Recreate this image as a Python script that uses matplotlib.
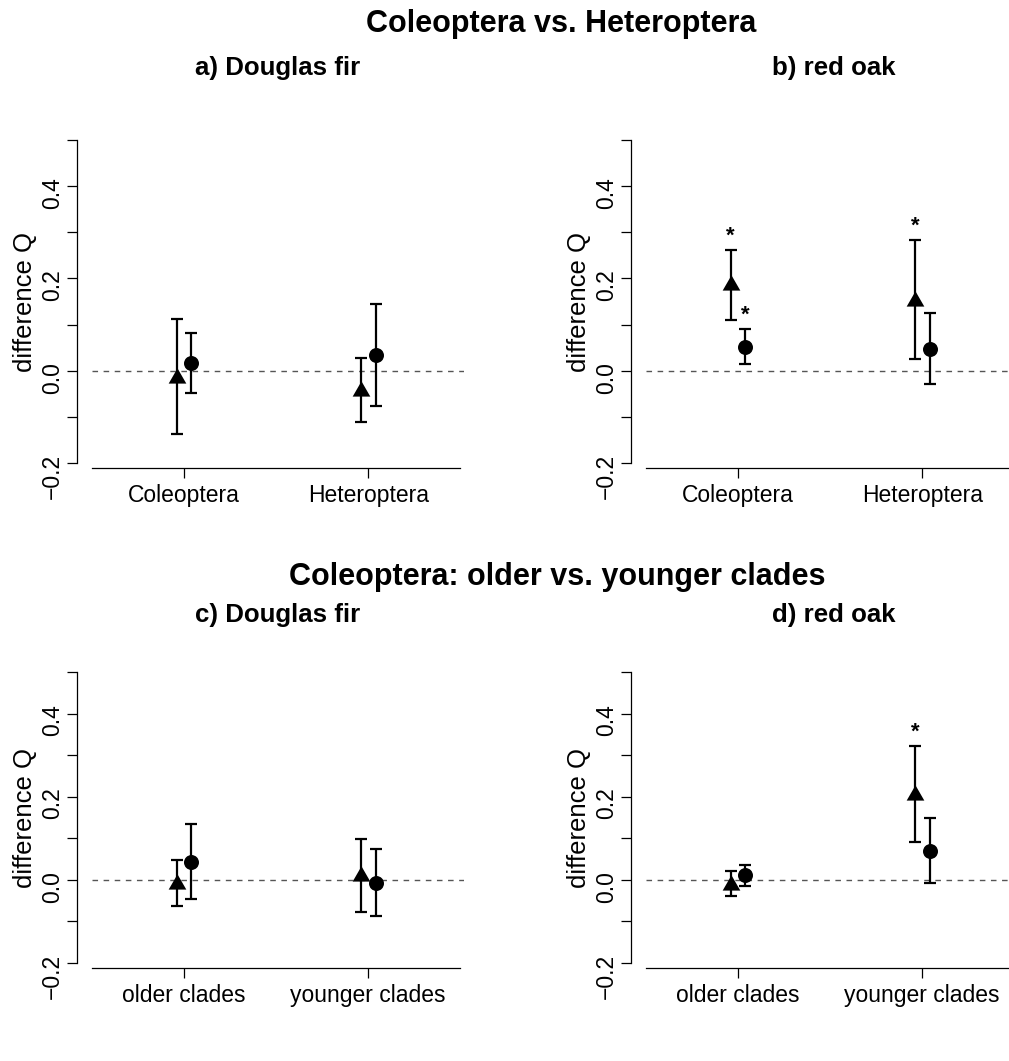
import matplotlib
matplotlib.use("Agg")
import matplotlib.pyplot as plt
import numpy as np

plt.rcParams['font.family'] = ['Liberation Sans', 'DejaVu Sans']

W, H = 1009, 1061

# categories
cats_top = ["Coleoptera", "Heteroptera"]
cats_bottom = ["older clades", "younger clades"]

# a) Douglas fir, Coleoptera vs. Heteroptera
a_tri = [-0.016, -0.043]
a_tri_lo = [-0.138, -0.111]
a_tri_hi = [0.112, 0.027]
a_dot = [0.016, 0.034]
a_dot_lo = [-0.049, -0.076]
a_dot_hi = [0.082, 0.145]
a_tri_sig = [False, False]
a_dot_sig = [False, False]

# b) red oak, Coleoptera vs. Heteroptera
b_tri = [0.185, 0.152]
b_tri_lo = [0.110, 0.025]
b_tri_hi = [0.261, 0.283]
b_dot = [0.052, 0.048]
b_dot_lo = [0.014, -0.029]
b_dot_hi = [0.090, 0.124]
b_tri_sig = [True, True]
b_dot_sig = [True, False]

# c) Douglas fir, older vs. younger clades
c_tri = [-0.010, 0.009]
c_tri_lo = [-0.062, -0.078]
c_tri_hi = [0.047, 0.098]
c_dot = [0.043, -0.007]
c_dot_lo = [-0.046, -0.086]
c_dot_hi = [0.134, 0.074]
c_tri_sig = [False, False]
c_dot_sig = [False, False]

# d) red oak, older vs. younger clades
d_tri = [-0.012, 0.203]
d_tri_lo = [-0.038, 0.090]
d_tri_hi = [0.022, 0.322]
d_dot = [0.011, 0.070]
d_dot_lo = [-0.014, -0.008]
d_dot_hi = [0.036, 0.148]
d_tri_sig = [False, True]
d_dot_sig = [False, False]

yticks = [-0.2, -0.1, 0.0, 0.1, 0.2, 0.3, 0.4, 0.5]
ytick_labels = ["\u22120.2", "", "0.0", "", "0.2", "", "0.4", ""]

# R-like filled triangle (pch 17), centred on its centroid
TRI = [(0, 1.555), (1.347, -0.778), (-1.347, -0.778), (0, 1.555)]
PX = 72 / 100  # points per pixel at dpi 100


def panel(ax, cats, tri, tri_lo, tri_hi, tri_sig, dot, dot_lo, dot_hi, dot_sig):
    x = np.arange(1, len(cats) + 1)
    ax.tick_params(axis="both", length=10 * PX, width=0.9, labelsize=16.5)
    ax.tick_params(axis="x", pad=4)
    ax.tick_params(axis="y", pad=2, labelrotation=90)
    ax.axhline(0, color="#555555", lw=1.0, ls=(0, (4, 4)), zorder=1)
    for xs, y, lo, hi, sig, mk, ms in [
        (x - 0.04, tri, tri_lo, tri_hi, tri_sig, TRI, 20.4 * PX),
        (x + 0.04, dot, dot_lo, dot_hi, dot_sig, "o", 15 * PX),
    ]:
        y = np.array(y)
        err = [y - np.array(lo), np.array(hi) - y]
        ax.errorbar(xs, y, yerr=err, fmt="none", ecolor="black",
                    elinewidth=1.6, capsize=4.5, capthick=1.6, zorder=2)
        ax.plot(xs, y, ls="none", marker=mk, ms=ms, color="black",
                mec="black", mew=0, zorder=3)
        for xi, h, s in zip(xs, hi, sig):
            if s:
                ax.annotate("*", xy=(xi, h), xytext=(0, 6),
                            textcoords="offset points", ha="center",
                            va="baseline", fontsize=16, fontweight="bold")
    ax.set_xlim(0.5, 2.52)
    ax.set_ylim(-0.2, 0.5)
    ax.set_xticks(x)
    ax.set_xticklabels(cats)
    ax.set_yticks(yticks)
    ax.set_yticklabels(ytick_labels)
    for t in ax.get_yticklabels():
        t.set_va("center")
    ax.set_ylabel("difference Q", fontsize=18.5, labelpad=3)
    for s in ("top", "right"):
        ax.spines[s].set_visible(False)
    ax.spines["left"].set_position(("outward", 15 * PX))
    ax.spines["bottom"].set_position(("outward", 5 * PX))
    ax.spines["left"].set_bounds(-0.2, 0.5)
    ax.spines["bottom"].set_bounds(0.5, 2.5)
    for s in ("left", "bottom"):
        ax.spines[s].set_linewidth(0.9)
    ax.patch.set_alpha(0)


fig = plt.figure(figsize=(W / 100, H / 100), dpi=100)

w = 372 / W
top_b, top_h = (H - 463) / H, 323 / H
bot_b, bot_h = (H - 963) / H, 291 / H

ax_a = fig.add_axes([92 / W, top_b, w, top_h])
ax_b = fig.add_axes([646 / W, top_b, w, top_h])
ax_c = fig.add_axes([92 / W, bot_b, w, bot_h])
ax_d = fig.add_axes([646 / W, bot_b, w, bot_h])

panel(ax_a, cats_top, a_tri, a_tri_lo, a_tri_hi, a_tri_sig, a_dot, a_dot_lo, a_dot_hi, a_dot_sig)
panel(ax_b, cats_top, b_tri, b_tri_lo, b_tri_hi, b_tri_sig, b_dot, b_dot_lo, b_dot_hi, b_dot_sig)
panel(ax_c, cats_bottom, c_tri, c_tri_lo, c_tri_hi, c_tri_sig, c_dot, c_dot_lo, c_dot_hi, c_dot_sig)
panel(ax_d, cats_bottom, d_tri, d_tri_lo, d_tri_hi, d_tri_sig, d_dot, d_dot_lo, d_dot_hi, d_dot_sig)

title_kw = dict(ha="center", va="baseline", fontweight="bold")
fig.text(561 / W, 1 - 32 / H, "Coleoptera vs. Heteroptera", fontsize=22, **title_kw)
fig.text(278 / W, 1 - 75 / H, "a) Douglas fir", fontsize=18.6, **title_kw)
fig.text(834 / W, 1 - 75 / H, "b) red oak", fontsize=18.6, **title_kw)
fig.text(557 / W, 1 - 585 / H, "Coleoptera: older vs. younger clades", fontsize=22, **title_kw)
fig.text(278 / W, 1 - 622 / H, "c) Douglas fir", fontsize=18.6, **title_kw)
fig.text(834 / W, 1 - 622 / H, "d) red oak", fontsize=18.6, **title_kw)

fig.savefig("out.png", dpi=100, facecolor="white")
